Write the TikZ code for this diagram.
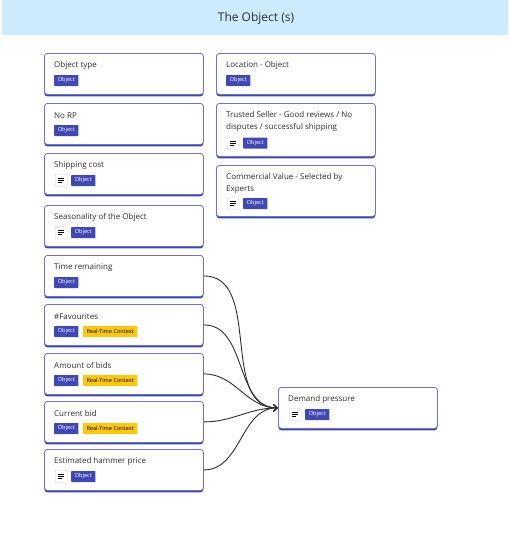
\documentclass[tikz,border=0pt]{standalone}
\usepackage{fontspec}
\setmainfont{Open Sans}
\usetikzlibrary{arrows.meta,shadows,calc}
\definecolor{hdr}{HTML}{CCEBFF}
\definecolor{cardb}{HTML}{6D74CF}
\definecolor{cardd}{HTML}{3D45B2}
\definecolor{tagb}{HTML}{4048B5}
\definecolor{tagy}{HTML}{FFC80A}
\definecolor{txt}{HTML}{2E2E2E}
\tikzset{
 card/.style={draw=cardb, line width=0.8pt, fill=white, rounded corners=3pt, anchor=north west, inner sep=0pt, drop shadow={shadow xshift=0pt, shadow yshift=-2pt, fill=cardd, opacity=1}},
 ttl/.style={anchor=west, inner sep=0pt, font=\fontsize{8}{11.5}\selectfont, text=txt, align=left},
 tag/.style={anchor=west, fill=tagb, text=white, font=\fontsize{5.6}{6}\selectfont, inner xsep=3.6pt, minimum height=11pt, inner ysep=0pt, rounded corners=0.6pt},
 ytag/.style={tag, fill=tagy, text=black},
 iconbox/.style={anchor=west, draw=gray!35, fill=white, minimum size=12pt, inner sep=0pt, rounded corners=0.8pt, line width=0.4pt},
 link/.style={draw=txt, line width=0.9pt, -{Straight Barb[length=4pt,width=7pt]}, out=0, in=180},
}
\newcommand{\iconlines}[1]{\draw[line width=0.75pt] ($(#1.center)+(-3,-2)$) -- ++(6,0) ($(#1.center)+(-3,0)$) -- ++(6,0) ($(#1.center)+(-3,2)$) -- ++(4,0);}
\begin{document}
\begin{tikzpicture}[x=1pt,y=-1pt]
\useasboundingbox (0,0) rectangle (510,560);
\fill[hdr] (2,0) rectangle (508,35);
\node[font=\fontsize{12}{14}\selectfont, text=txt] (title) at (256,18) {The Object (s)};

% cards
\node[card, minimum width=159pt, minimum height=41pt] (ot) at (44,53) {};
\node[card, minimum width=159pt, minimum height=41pt] (rp) at (44,103) {};
\node[card, minimum width=159pt, minimum height=41pt] (sc) at (44,153) {};
\node[card, minimum width=159pt, minimum height=41pt] (se) at (44,205) {};
\node[card, minimum width=159pt, minimum height=41pt] (tr) at (44,255) {};
\node[card, minimum width=159pt, minimum height=41pt] (fv) at (44,304) {};
\node[card, minimum width=159pt, minimum height=41pt] (ab) at (44,353) {};
\node[card, minimum width=159pt, minimum height=41pt] (cb) at (44,401) {};
\node[card, minimum width=159pt, minimum height=41pt] (eh) at (44,449) {};
\node[card, minimum width=159pt, minimum height=41pt] (lo) at (216,53) {};
\node[card, minimum width=159pt, minimum height=53pt] (ts) at (216,103) {};
\node[card, minimum width=159pt, minimum height=51pt] (cv) at (216,165) {};
\node[card, minimum width=159pt, minimum height=41pt] (dp) at (278,387) {};

% titles
\node[ttl] (ot-t) at ($(ot.north west)+(10,12.5)$) {Object type};
\node[ttl] (rp-t) at ($(rp.north west)+(10,12.5)$) {No RP};
\node[ttl] (sc-t) at ($(sc.north west)+(10,12.5)$) {Shipping cost};
\node[ttl] (se-t) at ($(se.north west)+(10,12.5)$) {Seasonality of the Object};
\node[ttl] (tr-t) at ($(tr.north west)+(10,12.5)$) {Time remaining};
\node[ttl] (fv-t) at ($(fv.north west)+(10,12.5)$) {\#Favourites};
\node[ttl] (ab-t) at ($(ab.north west)+(10,12.5)$) {Amount of bids};
\node[ttl] (cb-t) at ($(cb.north west)+(10,12.5)$) {Current bid};
\node[ttl] (eh-t) at ($(eh.north west)+(10,12.5)$) {Estimated hammer price};
\node[ttl] (lo-t) at ($(lo.north west)+(10,12.5)$) {Location - Object};
\node[ttl] (ts-t) at ($(ts.north west)+(10,18.5)$) {Trusted Seller - Good reviews / No\\disputes / successful shipping};
\node[ttl] (cv-t) at ($(cv.north west)+(10,18.5)$) {Commercial Value - Selected by\\Experts};
\node[ttl] (dp-t) at ($(dp.north west)+(10,12.5)$) {Demand pressure};

% tags
\node[tag] (ot-o) at ($(ot.north west)+(10,27.5)$) {Object};
\node[tag] (rp-o) at ($(rp.north west)+(10,27.5)$) {Object};
\node[iconbox] (sc-i) at ($(sc.north west)+(11,27.5)$) {}; \iconlines{sc-i}
\node[tag] (sc-o) at ($(sc.north west)+(27,27.5)$) {Object};
\node[iconbox] (se-i) at ($(se.north west)+(11,27.5)$) {}; \iconlines{se-i}
\node[tag] (se-o) at ($(se.north west)+(27,27.5)$) {Object};
\node[tag] (tr-o) at ($(tr.north west)+(10,27.5)$) {Object};
\node[tag] (fv-o) at ($(fv.north west)+(10,27.5)$) {Object};
\node[ytag] (fv-r) at ($(fv.north west)+(38.7,27.5)$) {Real-Time Context};
\node[tag] (ab-o) at ($(ab.north west)+(10,27.5)$) {Object};
\node[ytag] (ab-r) at ($(ab.north west)+(38.7,27.5)$) {Real-Time Context};
\node[tag] (cb-o) at ($(cb.north west)+(10,27.5)$) {Object};
\node[ytag] (cb-r) at ($(cb.north west)+(38.7,27.5)$) {Real-Time Context};
\node[iconbox] (eh-i) at ($(eh.north west)+(11,27.5)$) {}; \iconlines{eh-i}
\node[tag] (eh-o) at ($(eh.north west)+(27,27.5)$) {Object};
\node[tag] (lo-o) at ($(lo.north west)+(10,27.5)$) {Object};
\node[iconbox] (ts-i) at ($(ts.north west)+(11,40)$) {}; \iconlines{ts-i}
\node[tag] (ts-o) at ($(ts.north west)+(27,40)$) {Object};
\node[iconbox] (cv-i) at ($(cv.north west)+(11,38.5)$) {}; \iconlines{cv-i}
\node[tag] (cv-o) at ($(cv.north west)+(27,38.5)$) {Object};
\node[iconbox] (dp-i) at ($(dp.north west)+(11,27.5)$) {}; \iconlines{dp-i}
\node[tag] (dp-o) at ($(dp.north west)+(27,27.5)$) {Object};

% connectors
\draw[link] (tr.east) to (dp.west);
\draw[link] (fv.east) to (dp.west);
\draw[link] (ab.east) to (dp.west);
\draw[link] (cb.east) to (dp.west);
\draw[link] (eh.east) to (dp.west);
\end{tikzpicture}
\end{document}
